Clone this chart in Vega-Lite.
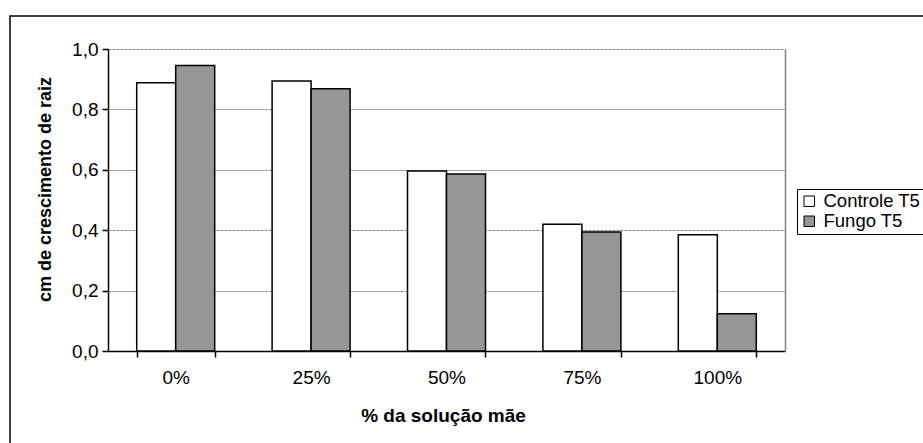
{
  "$schema": "https://vega.github.io/schema/vega-lite/v6.json",
  "width": 923,
  "height": 437,
  "autosize": "none",
  "padding": {"left": 10, "top": 16, "right": -10, "bottom": -10},
  "background": "white",
  "data": {
    "values": [
      {"solucao": "0%", "serie": "Controle T5", "valor": 0.888},
      {"solucao": "0%", "serie": "Fungo T5", "valor": 0.945},
      {"solucao": "25%", "serie": "Controle T5", "valor": 0.894},
      {"solucao": "25%", "serie": "Fungo T5", "valor": 0.868},
      {"solucao": "50%", "serie": "Controle T5", "valor": 0.596},
      {"solucao": "50%", "serie": "Fungo T5", "valor": 0.586},
      {"solucao": "75%", "serie": "Controle T5", "valor": 0.42},
      {"solucao": "75%", "serie": "Fungo T5", "valor": 0.394},
      {"solucao": "100%", "serie": "Controle T5", "valor": 0.385},
      {"solucao": "100%", "serie": "Fungo T5", "valor": 0.123}
    ]
  },
  "layer": [
    {
      "mark": {"type": "bar", "stroke": "black", "strokeWidth": 1.5},
      "encoding": {
        "x": {
          "field": "solucao",
          "type": "nominal",
          "sort": ["0%", "25%", "50%", "75%", "100%"],
          "scale": {"range": [98, 775], "paddingInner": 0.424, "paddingOuter": 0.212},
          "axis": {
            "title": "% da solução mãe",
            "orient": "bottom",
            "offset": -102,
            "labelAngle": 0,
            "tickBand": "extent",
            "domainWidth": 1.5,
            "tickSize": 6,
            "tickWidth": 1.5,
            "labelPadding": 11,
            "titleFontSize": 19,
            "titleX": 433,
            "titleY": 64,
            "titleBaseline": "middle",
            "titleAlign": "center"
          }
        },
        "xOffset": {
          "field": "serie",
          "type": "nominal",
          "scale": {"paddingInner": 0, "paddingOuter": 0}
        },
        "y": {
          "field": "valor",
          "type": "quantitative",
          "scale": {"domain": [0, 1], "range": [335, 33], "nice": false},
          "axis": {
            "title": "cm de crescimento de raiz",
            "orient": "left",
            "offset": -98,
            "values": [0, 0.2, 0.4, 0.6, 0.8, 1],
            "labelExpr": "replace(format(datum.value, '.1f'), '.', ',')",
            "grid": true,
            "gridColor": "#8a8a8a",
            "gridDash": [3, 1],
            "domainWidth": 1.5,
            "tickSize": 6,
            "tickWidth": 1.5,
            "labelPadding": 4,
            "titleX": -63,
            "titleY": 173,
            "titleAngle": -90,
            "titleBaseline": "middle",
            "titleAlign": "center"
          }
        },
        "fill": {
          "field": "serie",
          "type": "nominal",
          "scale": {"domain": ["Controle T5", "Fungo T5"], "range": ["white", "#969696"]},
          "legend": {
            "title": null,
            "orient": "none",
            "legendX": 787,
            "legendY": 173,
            "direction": "vertical",
            "strokeColor": "black",
            "fillColor": "white",
            "padding": 3,
            "rowPadding": 1,
            "symbolType": "square",
            "symbolSize": 110,
            "symbolStrokeColor": "black",
            "symbolStrokeWidth": 1,
            "labelFontSize": 18.5,
            "labelOffset": 5
          }
        }
      }
    },
    {
      "mark": {"type": "rule", "opacity": 0},
      "encoding": {
        "y": {
          "field": "valor",
          "type": "quantitative",
          "axis": {
            "orient": "right",
            "offset": -148,
            "domainColor": "#808080",
            "domainWidth": 1.5,
            "ticks": false,
            "labels": false,
            "grid": false,
            "title": null
          }
        }
      }
    }
  ],
  "resolve": {"axis": {"y": "independent"}},
  "config": {
    "font": "Liberation Sans",
    "view": {"stroke": "black", "strokeWidth": 1.5},
    "axis": {
      "labelColor": "black",
      "titleColor": "black",
      "labelFontSize": 19,
      "titleFontSize": 18,
      "titleFontWeight": "bold",
      "domainColor": "black",
      "tickColor": "black"
    },
    "legend": {"labelColor": "black"}
  }
}
